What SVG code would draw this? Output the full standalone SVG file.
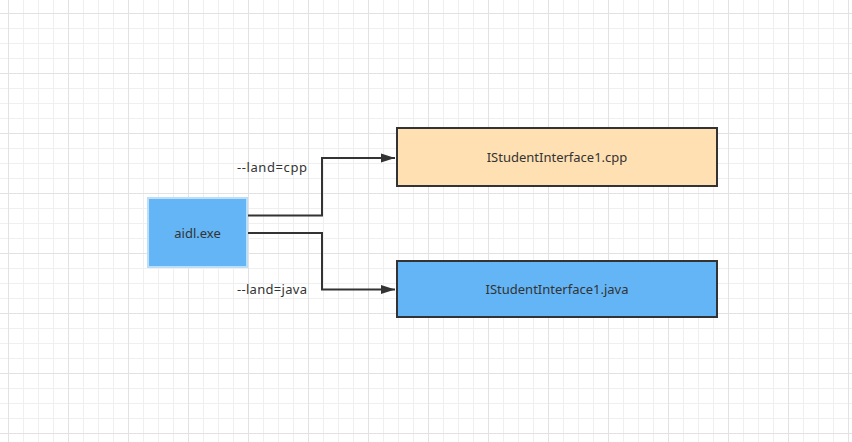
<svg xmlns="http://www.w3.org/2000/svg" width="852" height="442" viewBox="0 0 852 442">
  <style>
    .lbl { font-family: "Noto Sans", "Open Sans", "Liberation Sans", sans-serif; font-size: 13px; fill: #333333; }
    .edge { fill: none; stroke: #333333; stroke-width: 2; }
    .box { stroke: #333333; stroke-width: 2; }
  </style>
  <defs>
    <pattern id="grid" patternUnits="userSpaceOnUse" x="8" y="13" width="60" height="60">
      <path d="M15.5 0V60M30.5 0V60M45.5 0V60M0 15.5H60M0 30.5H60M0 45.5H60" stroke="#efefef" stroke-width="1" fill="none"/>
      <path d="M0.5 0V60M0 0.5H60" stroke="#e2e2e2" stroke-width="1" fill="none"/>
    </pattern>
    <marker id="arrow" markerUnits="userSpaceOnUse" markerWidth="14" markerHeight="10" refX="14" refY="5" orient="auto">
      <path d="M0 0.5L14 5L0 9.5Z" fill="#333333"/>
    </marker>
  </defs>
  <rect width="852" height="442" fill="#ffffff"/>
  <rect width="852" height="442" fill="url(#grid)"/>

  <g id="connectors">
    <path class="edge" d="M248 215.5H322V158H395" marker-end="url(#arrow)"/>
    <path class="edge" d="M248 233H322V289.5H395" marker-end="url(#arrow)"/>
    <text class="lbl" x="237" y="172" textLength="70" lengthAdjust="spacing">--land=cpp</text>
    <text class="lbl" x="237" y="294" textLength="70" lengthAdjust="spacing">--land=java</text>
  </g>

  <g id="aidl">
    <rect x="148" y="198" width="99" height="69" fill="#64b5f6" stroke="#bbdefb" stroke-width="2"/>
    <text class="lbl" x="197.5" y="237.5" text-anchor="middle">aidl.exe</text>
  </g>

  <g id="cpp">
    <rect class="box" x="397" y="128" width="320" height="58" fill="#ffe0b2"/>
    <text class="lbl" x="557" y="162" text-anchor="middle">IStudentInterface1.cpp</text>
  </g>

  <g id="java">
    <rect class="box" x="397" y="261" width="320" height="56" fill="#64b5f6"/>
    <text class="lbl" x="557" y="294" text-anchor="middle">IStudentInterface1.java</text>
  </g>
</svg>
